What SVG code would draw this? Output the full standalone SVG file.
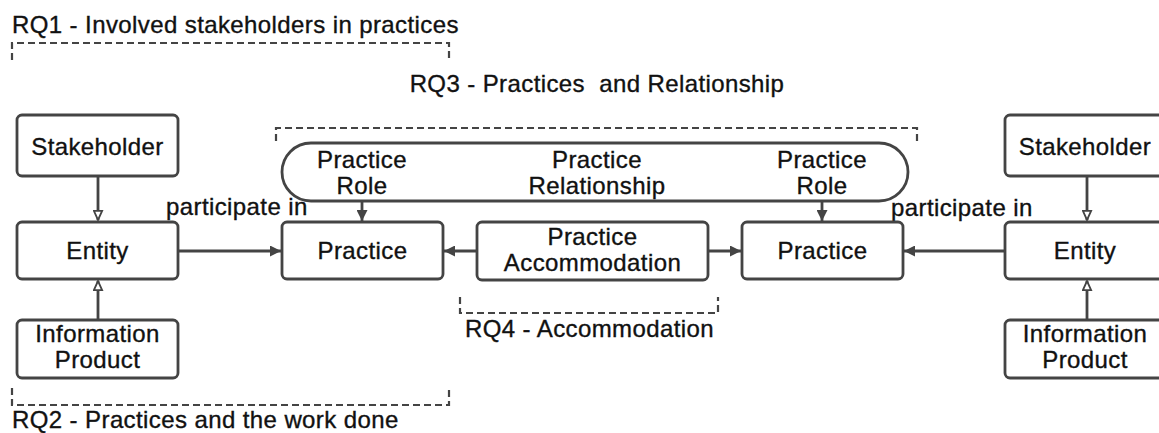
<svg xmlns="http://www.w3.org/2000/svg" width="1159" height="433" viewBox="0 0 1159 433">
<style>
.box{fill:#fff;stroke:#444;stroke-width:2.8}
.t{font-family:"Liberation Sans",Arial,sans-serif;font-size:24px;letter-spacing:0.4px;fill:#111;stroke:#111;stroke-width:0.35;text-anchor:middle}
.l{font-family:"Liberation Sans",Arial,sans-serif;font-size:24px;letter-spacing:0.4px;fill:#111;stroke:#111;stroke-width:0.35;white-space:pre}
.dash{fill:none;stroke:#444;stroke-width:2.2;stroke-dasharray:7,4}
.c{fill:none;stroke:#444;stroke-width:2.8}
</style>
<defs>
<marker id="solid" viewBox="0 0 10 10" refX="10" refY="5" markerWidth="11" markerHeight="11" markerUnits="userSpaceOnUse" orient="auto">
<path d="M0,0 L10,5 L0,10 z" fill="#444"/>
</marker>
<marker id="hollow" viewBox="0 0 12 12" refX="11" refY="6" markerWidth="11" markerHeight="11" markerUnits="userSpaceOnUse" orient="auto">
<path d="M1,1.5 L11,6 L1,10.5 z" fill="#fff" stroke="#444" stroke-width="2"/>
</marker>
</defs>
<rect width="1159" height="433" fill="#fff"/>

<g id="labels">
<text class="l" x="12" y="33">RQ1 - Involved stakeholders in practices</text>
<path class="dash" d="M12,60 V43 H449 V60"/>
<text class="l" x="597" y="92" text-anchor="middle">RQ3 - Practices  and Relationship</text>
<path class="dash" d="M276,141 V128 H917 V141"/>
<path class="dash" d="M12,388 V405 H449 V388"/>
<text class="l" x="12" y="428">RQ2 - Practices and the work done</text>
<path class="dash" d="M460,297 V313 H718 V297"/>
<text class="l" x="465" y="337">RQ4 - Accommodation</text>
</g>

<g id="connectors">
<path class="c" d="M98,176 V220" marker-end="url(#hollow)"/>
<path class="c" d="M98,320 V281" marker-end="url(#hollow)"/>
<path class="c" d="M178,251 H281" marker-end="url(#solid)"/>
<path class="c" d="M362,201 V221" marker-end="url(#solid)"/>
<path class="c" d="M822,201 V221" marker-end="url(#solid)"/>
<path class="c" d="M477,251 H444" marker-end="url(#solid)"/>
<path class="c" d="M708,251 H741" marker-end="url(#solid)"/>
<path class="c" d="M1005,251 H904" marker-end="url(#solid)"/>
<path class="c" d="M1087,176 V220" marker-end="url(#hollow)"/>
<path class="c" d="M1087,320 V281" marker-end="url(#hollow)"/>
<text class="l" x="166" y="215">participate in</text>
<text class="l" x="891" y="216">participate in</text>
</g>

<g id="stakeholder-left">
<rect class="box" x="17" y="115" width="161" height="61" rx="5"/>
<text class="t" x="97.5" y="155">Stakeholder</text>
</g>
<g id="entity-left">
<rect class="box" x="17" y="222" width="161" height="57" rx="5"/>
<text class="t" x="97.5" y="259">Entity</text>
</g>
<g id="infoproduct-left">
<rect class="box" x="17" y="320" width="161" height="58" rx="5"/>
<text class="t" x="97.5" y="342">Information</text>
<text class="t" x="97.5" y="368">Product</text>
</g>
<g id="practice-pill">
<rect class="box" x="282" y="143" width="626" height="58" rx="29"/>
<text class="t" x="362" y="168">Practice</text>
<text class="t" x="362" y="194">Role</text>
<text class="t" x="597" y="168">Practice</text>
<text class="t" x="597" y="194">Relationship</text>
<text class="t" x="822" y="168">Practice</text>
<text class="t" x="822" y="194">Role</text>
</g>
<g id="practice-left">
<rect class="box" x="282" y="222" width="161" height="57" rx="5"/>
<text class="t" x="362.5" y="259">Practice</text>
</g>
<g id="practice-accommodation">
<rect class="box" x="477" y="222" width="231" height="58" rx="5"/>
<text class="t" x="592.5" y="245">Practice</text>
<text class="t" x="592.5" y="271">Accommodation</text>
</g>
<g id="practice-right">
<rect class="box" x="742" y="222" width="161" height="57" rx="5"/>
<text class="t" x="822.5" y="259">Practice</text>
</g>
<g id="stakeholder-right">
<rect class="box" x="1005" y="115" width="170" height="61" rx="5"/>
<text class="t" x="1085" y="155">Stakeholder</text>
</g>
<g id="entity-right">
<rect class="box" x="1005" y="222" width="170" height="57" rx="5"/>
<text class="t" x="1085" y="259">Entity</text>
</g>
<g id="infoproduct-right">
<rect class="box" x="1005" y="320" width="170" height="58" rx="5"/>
<text class="t" x="1085" y="342">Information</text>
<text class="t" x="1085" y="368">Product</text>
</g>
</svg>
